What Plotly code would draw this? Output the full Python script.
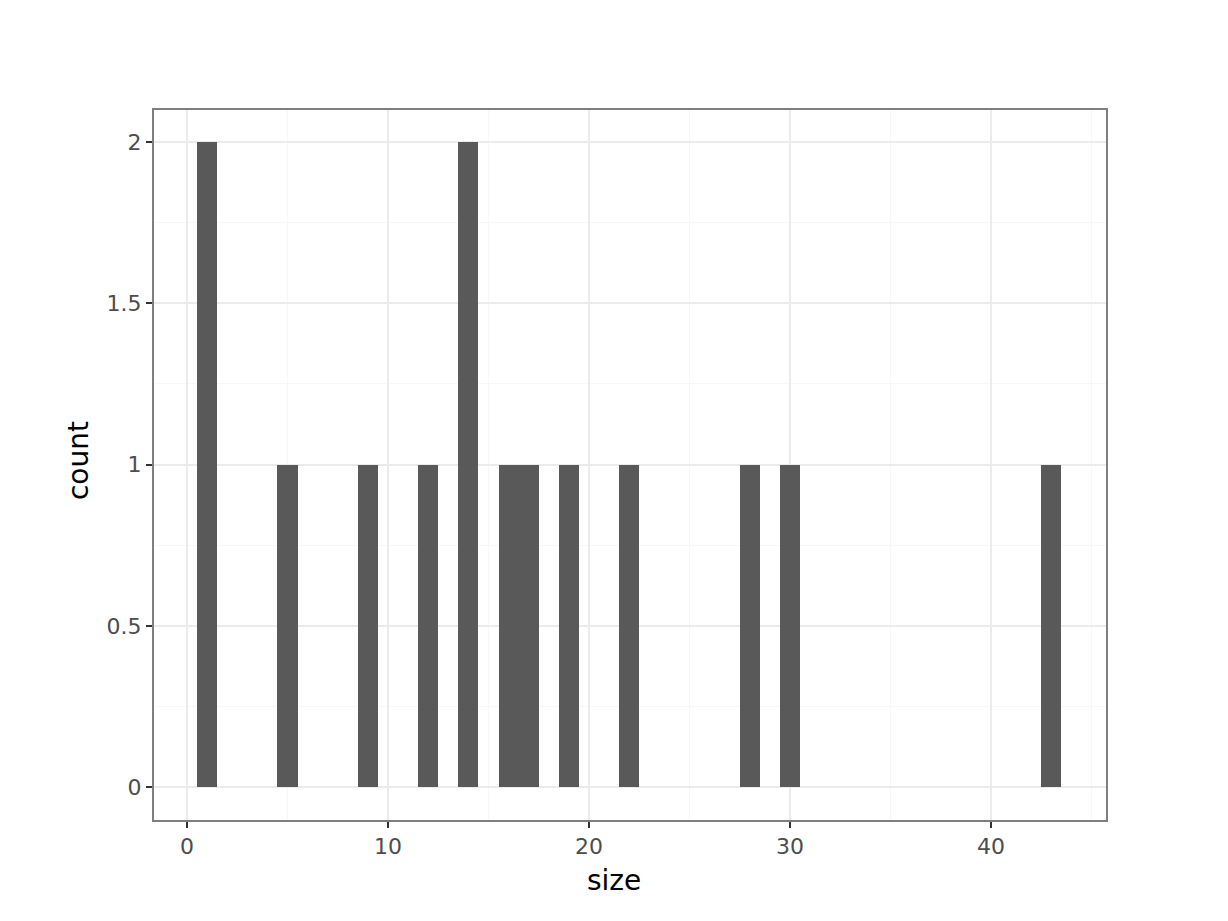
import plotly.graph_objects as go

sizes = [1, 5, 9, 12, 14, 16, 17, 19, 22, 28, 30, 43]
counts = [2, 1, 1, 1, 2, 1, 1, 1, 1, 1, 1, 1]
x_ticks = [0, 10, 20, 30, 40]
y_ticks = [0, 0.5, 1, 1.5, 2]
y_tick_labels = ["0", "0.5", "1", "1.5", "2"]

fig = go.Figure()
fig.add_trace(go.Bar(x=sizes, y=counts, width=[1] * len(sizes),
                     marker=dict(color="#595959", line=dict(width=0)),
                     showlegend=False))

axis_common = dict(
    showline=True, mirror=True, linecolor="#7F7F7F", linewidth=2,
    showgrid=True, gridcolor="#EBEBEB", gridwidth=2,
    ticks="outside", ticklen=6, tickcolor="#333333", tickwidth=2,
    tickfont=dict(family="DejaVu Sans", size=22, color="#4D4D4D"),
    zeroline=False,
)

fig.update_layout(
    width=1228, height=921,
    paper_bgcolor="white", plot_bgcolor="white",
    margin=dict(l=146, r=130, t=102, b=109),
    font=dict(family="DejaVu Sans"),
    bargap=0,
    xaxis=dict(range=[-1.64, 45.72], tickvals=x_ticks,
               minor=dict(showgrid=True, gridcolor="#F7F7F7", gridwidth=1,
                          tickvals=[5, 15, 25, 35, 45]),
               **axis_common),
    yaxis=dict(range=[-0.102, 2.099], tickvals=y_ticks, ticktext=y_tick_labels,
               minor=dict(showgrid=True, gridcolor="#F7F7F7", gridwidth=1,
                          tickvals=[0.25, 0.75, 1.25, 1.75]),
               **axis_common),
    annotations=[
        dict(text="size", xref="paper", yref="paper", x=0.4832, y=-0.0859,
             xanchor="center", yanchor="middle", showarrow=False,
             font=dict(size=28, color="black", family="DejaVu Sans")),
        dict(text="count", xref="paper", yref="paper", x=-0.0798, y=0.5056,
             xanchor="center", yanchor="middle", showarrow=False, textangle=-90,
             font=dict(size=28, color="black", family="DejaVu Sans")),
    ],
)

fig.write_html("out.html")
